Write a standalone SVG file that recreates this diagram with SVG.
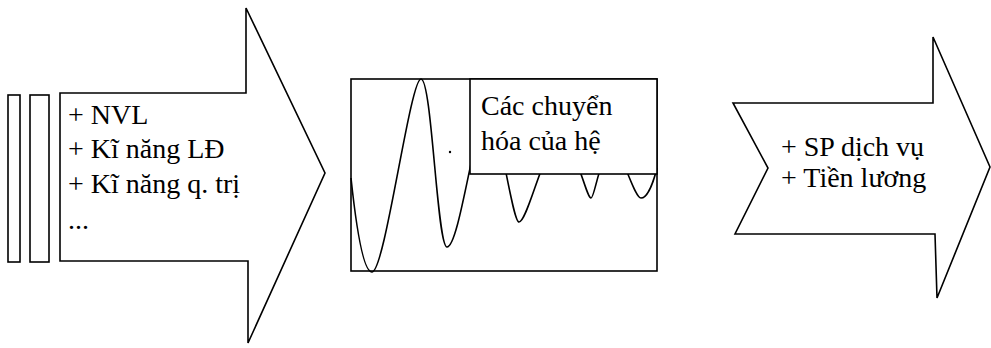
<svg xmlns="http://www.w3.org/2000/svg" width="991" height="348" viewBox="0 0 991 348">
<style>
.sh{fill:#fff;stroke:#000;stroke-width:1.6;stroke-linejoin:miter}
.ln{fill:none;stroke:#000;stroke-width:1.6}
.t{font-family:"Liberation Serif","DejaVu Serif",serif;font-size:28px;fill:#000}
</style>
<rect width="991" height="348" fill="#fff"/>
<g id="bar1"><rect class="sh" x="8" y="95" width="12" height="167"/></g>
<g id="bar2"><rect class="sh" x="30" y="95" width="19" height="167"/></g>
<g id="input-arrow">
<polygon class="sh" points="60,93 246,93 246,8 325,173 248,343 248,261 60,261"/>
<text class="t" x="68" y="124">+ NVL</text>
<text class="t" x="68" y="158">+ Kĩ năng LĐ</text>
<text class="t" x="68" y="193">+ Kĩ năng q. trị</text>
<text class="t" x="68" y="229">...</text>
</g>
<g id="system">
<rect class="sh" x="351" y="79" width="306" height="192"/>
<path class="ln" d="M351,178 C356,225 363,272 372,272 C385,272 410,79 421,79 C432,79 437,247 447,247 C460,247 476,110 488,110 C498,110 512,222 519,222 C528,222 545,140 560,140 C575,140 586,198 591,198 C595,198 600,150 614,150 C622,150 634,198 641,198 C648,198 654,180 657,168"/>
<circle cx="450" cy="152" r="1.2" fill="#000"/>
<rect class="sh" x="470" y="79" width="187" height="95"/>
<text class="t" x="481" y="115">Các chuyển</text>
<text class="t" x="481" y="150">hóa của hệ</text>
</g>
<g id="output-arrow">
<polygon class="sh" points="733,103 933,103 933,37 990,167 937,298 935,234 735,234 768,168"/>
<text class="t" x="781" y="156">+ SP dịch vụ</text>
<text class="t" x="781" y="187">+ Tiền lương</text>
</g>
<g id="connectors"></g>
</svg>
